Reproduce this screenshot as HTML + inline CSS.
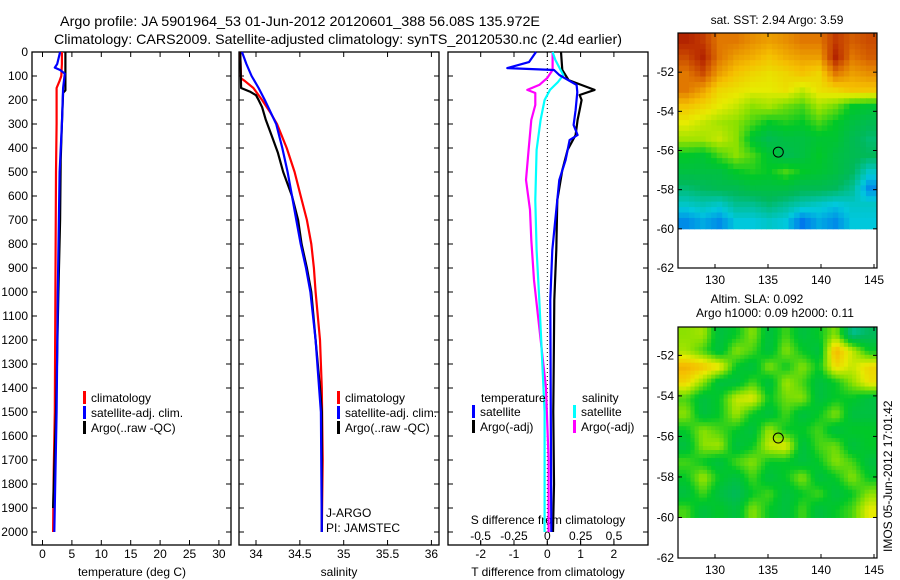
<!DOCTYPE html>
<html><head><meta charset="utf-8"><style>
html,body{margin:0;padding:0;background:#fff;}
svg{display:block;font-family:"Liberation Sans",sans-serif;}
</style></head><body>
<svg id="fig" width="900" height="580" viewBox="0 0 900 580" xmlns="http://www.w3.org/2000/svg">
<text x="60" y="26" font-size="14" textLength="480" lengthAdjust="spacingAndGlyphs">Argo profile: JA 5901964_53 01-Jun-2012 20120601_388 56.08S 135.972E</text>
<text x="54" y="44" font-size="14" textLength="568" lengthAdjust="spacingAndGlyphs">Climatology: CARS2009. Satellite-adjusted climatology: synTS_20120530.nc (2.4d earlier)</text>
</svg>
<script>
// ---- data ----
const depthTicks=[0,100,200,300,400,500,600,700,800,900,1000,1100,1200,1300,1400,1500,1600,1700,1800,1900,2000];
const tempTicks=[0,5,10,15,20,25,30];
const salTicks=[34,34.5,35,35.5,36];
const tdiffTicks=[-2,-1,0,1,2];
const sdiffTicks=[-0.5,-0.25,0,0.25,0.5];
const sdiffTickLabels=["-0.5","-0.25","0","0.25","0.5"];
const latTicks=[-52,-54,-56,-58,-60,-62];
const lonTicks=[130,135,140,145];

const tClimDepth=[0,50,100,120,150,300,500,1000,1500,1750,2000];
const tClim=[3.3,3.3,3.2,2.9,2.4,2.4,2.3,2.2,2.1,1.9,1.8];
const tSatDepth=[0,50,65,75,90,150,300,500,1000,1500,2000];
const tSat=[3.0,2.5,2.1,3.0,3.8,3.5,3.3,2.9,2.6,2.4,2.0];
const tArgoDepth=[0,160,170,300,450,700,1000,1500,1900];
const tArgo=[3.9,3.9,3.5,3.3,3.1,3.0,2.7,2.3,1.8];

const sArgoDepth=[0,150,165,180,200,230,280,350,420,500,600,700,800,900,1000,1200,1400,1500,2000];
const sArgo=[33.82,33.83,33.93,34.0,34.03,34.07,34.11,34.18,34.25,34.31,34.41,34.48,34.52,34.58,34.63,34.68,34.73,34.75,34.75];
const sSatDepth=[0,50,100,150,200,300,400,500,600,700,800,900,1000,1200,1400,1500,2000];
const sSat=[33.84,33.89,33.95,34.03,34.10,34.23,34.30,34.36,34.41,34.46,34.51,34.57,34.62,34.68,34.72,34.74,34.75];
const sClimDepth=[0,110,120,150,200,250,300,400,500,600,700,800,900,1000,1200,1400,1700,2000];
const sClim=[33.82,33.83,33.87,33.97,34.07,34.16,34.24,34.35,34.44,34.51,34.58,34.63,34.66,34.68,34.73,34.75,34.76,34.75];

const dTSatDepth=[0,42,67,75,96,137,167,242,304,346,367,450,533,658,825,1033,2000];
const dTSat=[-0.34,-0.55,-1.2,0.2,0.36,0.88,0.9,0.85,0.79,0.91,0.67,0.55,0.36,0.27,0.15,0.09,0.12];
const dTArgoDepth=[0,75,117,158,179,200,242,283,346,408,492,617,825,1033,1500,1800,2000];
const dTArgo=[0.41,0.45,0.64,1.42,0.97,1.03,0.97,0.91,0.85,0.61,0.45,0.3,0.27,0.21,0.18,0.2,0.17];
const dSArgoDepth=[0,75,108,137,158,171,221,283,408,533,658,783,950,1400,1700,2000];
const dSArgo=[0.04,0.04,0.0,-0.06,-0.15,-0.09,-0.09,-0.12,-0.14,-0.16,-0.13,-0.12,-0.1,-0.01,0.01,0.01];
const dSSatDepth=[0,33,96,125,158,200,283,408,617,825,1033,1500,2000];
const dSSat=[0.04,0.06,0.12,0.08,0.02,-0.02,-0.05,-0.08,-0.09,-0.08,-0.06,-0.02,-0.02];

const sstGrid=[
[0.95,0.92,0.85,0.85,0.82,0.80,0.82,0.85,0.85,0.92,0.88,0.90],
[0.90,0.95,0.85,0.80,0.78,0.75,0.78,0.80,0.80,0.95,0.85,0.88],
[0.85,0.90,0.80,0.75,0.72,0.70,0.72,0.75,0.72,0.85,0.80,0.82],
[0.85,0.80,0.72,0.70,0.68,0.68,0.70,0.65,0.70,0.72,0.75,0.75],
[0.75,0.72,0.68,0.65,0.60,0.62,0.58,0.55,0.62,0.58,0.50,0.48],
[0.68,0.65,0.62,0.60,0.55,0.50,0.52,0.50,0.55,0.50,0.45,0.42],
[0.62,0.62,0.65,0.60,0.48,0.42,0.45,0.45,0.48,0.48,0.42,0.38],
[0.50,0.48,0.55,0.60,0.55,0.48,0.42,0.45,0.50,0.45,0.42,0.40],
[0.45,0.45,0.45,0.50,0.52,0.50,0.55,0.50,0.48,0.45,0.40,0.30],
[0.38,0.40,0.42,0.42,0.45,0.45,0.45,0.42,0.42,0.40,0.35,0.22],
[0.30,0.32,0.30,0.35,0.35,0.38,0.35,0.32,0.30,0.28,0.30,0.30],
[0.22,0.25,0.22,0.28,0.28,0.30,0.28,0.20,0.25,0.22,0.28,0.28]];
const slaGrid=[
[0.60,0.62,0.45,0.50,0.60,0.45,0.55,0.45,0.50,0.60,0.35,0.40],
[0.62,0.55,0.45,0.60,0.55,0.45,0.60,0.50,0.45,0.78,0.65,0.50],
[0.78,0.75,0.70,0.50,0.45,0.60,0.50,0.60,0.50,0.72,0.65,0.72],
[0.72,0.60,0.45,0.45,0.55,0.45,0.62,0.55,0.45,0.50,0.60,0.70],
[0.55,0.45,0.50,0.65,0.68,0.50,0.58,0.60,0.45,0.50,0.50,0.45],
[0.60,0.45,0.50,0.62,0.50,0.45,0.55,0.45,0.50,0.60,0.45,0.45],
[0.50,0.60,0.55,0.50,0.45,0.62,0.50,0.50,0.55,0.45,0.50,0.50],
[0.45,0.60,0.62,0.45,0.50,0.65,0.68,0.45,0.55,0.58,0.45,0.50],
[0.55,0.50,0.45,0.55,0.60,0.50,0.50,0.45,0.50,0.60,0.55,0.45],
[0.50,0.62,0.50,0.45,0.55,0.45,0.50,0.60,0.45,0.50,0.60,0.50],
[0.45,0.55,0.45,0.40,0.50,0.55,0.45,0.50,0.55,0.45,0.50,0.60],
[0.55,0.45,0.50,0.45,0.60,0.50,0.45,0.55,0.45,0.50,0.55,0.68]];
const floatLon=[135.97];
const floatLat=[-56.08];

// ---- drawing ----
const NS="http://www.w3.org/2000/svg";
const svg=document.getElementById('fig');
function el(tag,attrs,parent){const e=document.createElementNS(NS,tag);for(const k in attrs)e.setAttribute(k,attrs[k]);(parent||svg).appendChild(e);return e;}
function txt(s,x,y,attrs,name){const t=el('text',Object.assign({x:x,y:y,'font-size':12},attrs||{}));t.textContent=s;


return t;}

const TOP=52,BOT=545;
const yD=d=>TOP+d*0.24;
const panels=[{x0:32,x1:231},{x0:239,x1:439},{x0:448,x1:648}];
const xT=v=>42.5+v*5.88;
const xS=v=>256+(v-34)*87.7;
const xDT=v=>547.3+v*33.3;
const xDS=v=>547.3+v*133.3;

function frame(p,name){const r=el('rect',{x:p.x0,y:TOP,width:p.x1-p.x0,height:BOT-TOP,fill:'none',stroke:'#000','stroke-width':1.3});


depthTicks.forEach(d=>{const y=yD(d);el('line',{x1:p.x0,x2:p.x0+5,y1:y,y2:y,stroke:'#000'});el('line',{x1:p.x1-5,x2:p.x1,y1:y,y2:y,stroke:'#000'});});}
panels.forEach((p,i)=>frame(p,['temperature-panel','salinity-panel','difference-panel'][i]));
depthTicks.forEach(d=>txt(String(d),28,yD(d)+4,{'text-anchor':'end','font-size':12},'depth-tick-label'));

function xticks(vals,fx,p,labels,ylab,name){vals.forEach((v,i)=>{const x=fx(v);el('line',{x1:x,x2:x,y1:BOT-5,y2:BOT,stroke:'#000'});el('line',{x1:x,x2:x,y1:TOP,y2:TOP+5,stroke:'#000'});
txt(labels?labels[i]:String(v),x,ylab,{'text-anchor':'middle'},name);});}
xticks(tempTicks,xT,panels[0],null,558,'temperature-tick-label');
xticks(salTicks,xS,panels[1],null,558,'salinity-tick-label');
xticks(tdiffTicks,xDT,panels[2],null,558,'tdiff-tick-label');
sdiffTicks.forEach((v,i)=>{const x=xDS(v);el('line',{x1:x,x2:x,y1:BOT-4,y2:BOT,stroke:'#000'});txt(sdiffTickLabels[i],x,540,{'text-anchor':'middle'},'sdiff-tick-label');});
txt('temperature (deg C)',132,576,{'text-anchor':'middle'},'temperature-axis-title');
txt('salinity',339,576,{'text-anchor':'middle'},'salinity-axis-title');
txt('T difference from climatology',548,576,{'text-anchor':'middle'},'tdiff-axis-title');
txt('S difference from climatology',548,524,{'text-anchor':'middle'},'sdiff-axis-title');

el('line',{x1:xDT(0),x2:xDT(0),y1:TOP,y2:yD(2000),stroke:'#000','stroke-dasharray':'1,3'});

function profile(depths,vals,fx,color,name){const pts=depths.map((d,i)=>fx(vals[i]).toFixed(1)+','+yD(d).toFixed(1)).join(' ');
const pl=el('polyline',{points:pts,fill:'none',stroke:color,'stroke-width':2.2,'stroke-linejoin':'round'});

}
profile(tClimDepth,tClim,xT,'#f00','temp-climatology-line');
profile(tArgoDepth,tArgo,xT,'#000','temp-argo-line');
profile(tSatDepth,tSat,xT,'#00f','temp-satellite-line');
profile(sClimDepth,sClim,xS,'#f00','sal-climatology-line');
profile(sArgoDepth,sArgo,xS,'#000','sal-argo-line');
profile(sSatDepth,sSat,xS,'#00f','sal-satellite-line');
profile(dSArgoDepth,dSArgo,xDS,'#f0f','sdiff-argo-line');
profile(dTArgoDepth,dTArgo,xDT,'#000','tdiff-argo-line');
profile(dSSatDepth,dSSat,xDS,'#0ff','sdiff-satellite-line');
profile(dTSatDepth,dTSat,xDT,'#00f','tdiff-satellite-line');

function legend(x,y,color,label,name){el('rect',{x:x,y:y-11,width:3,height:13,fill:color});txt(label,x+8,y,{},name);}
[['#f00','climatology'],['#00f','satellite-adj. clim.'],['#000','Argo(..raw -QC)']].forEach((e,i)=>{legend(83,402+i*15,e[0],e[1],'temp-legend-entry');legend(337,402+i*15,e[0],e[1],'sal-legend-entry');});
txt('temperature',481,402,{},'tdiff-legend-title');
txt('salinity',582,402,{},'sdiff-legend-title');
legend(472,416,'#00f','satellite','tdiff-legend-satellite');
legend(472,431,'#000','Argo(-adj)','tdiff-legend-argo');
legend(573,416,'#0ff','satellite','sdiff-legend-satellite');
legend(573,431,'#f0f','Argo(-adj)','sdiff-legend-argo');
txt('J-ARGO',326,517,{},'institution-label');
txt('PI: JAMSTEC',326,532,{},'pi-label');

// ---- maps ----
const stops=[[0,[0,0,190]],[0.18,[0,100,240]],[0.28,[0,200,220]],[0.4,[0,185,90]],[0.5,[0,200,40]],[0.6,[140,225,0]],[0.68,[230,235,0]],[0.76,[245,190,0]],[0.85,[225,120,0]],[0.93,[190,50,0]],[1,[150,0,0]]];
function cmap(v){for(let i=1;i<stops.length;i++){if(v<=stops[i][0]){const a=stops[i-1],b=stops[i],t=(v-a[0])/(b[0]-a[0]);return 'rgb('+a[1].map((c,k)=>Math.round(c+(b[1][k]-c)*t)).join(',')+')';}}return 'rgb(150,0,0)';}
function sample(grid,fr,fc){const rows=grid.length,cols=grid[0].length;
 const r=Math.min(Math.max(fr,0),rows-1),c=Math.min(Math.max(fc,0),cols-1);
 const r0=Math.floor(r),c0=Math.floor(c),r1=Math.min(r0+1,rows-1),c1=Math.min(c0+1,cols-1),tr=r-r0,tc=c-c0;
 return grid[r0][c0]*(1-tr)*(1-tc)+grid[r0][c1]*(1-tr)*tc+grid[r1][c0]*tr*(1-tc)+grid[r1][c1]*tr*tc;}
function map(grid,top,bottom,latTop,name,sub){
 const x0=678,x1=877;
 const xL=lon=>715+(lon-130)*10.6;
 const yL=lat=>top+(latTop-lat)*((bottom-top)/(latTop+62));
 const rows=grid.length,cols=grid[0].length;
 const dataTop=yL(latTop),dataBot=yL(-60);
 const R=rows*sub,C=cols*sub;
 const cw=(x1-x0)/C,ch=(dataBot-dataTop)/R;
 for(let r=0;r<R;r++)for(let c=0;c<C;c++){
  const v=sample(grid,(r+0.5)/sub-0.5,(c+0.5)/sub-0.5);
  const cell=el('rect',{x:(x0+c*cw).toFixed(2),y:(dataTop+r*ch).toFixed(2),width:(cw+0.5).toFixed(2),height:(ch+0.5).toFixed(2),fill:cmap(v)});
  
  }
 const fr=el('rect',{x:x0,y:top,width:x1-x0,height:bottom-top,fill:'none',stroke:'#000','stroke-width':1.2});
 
 
 latTicks.forEach(l=>{const y=yL(l);el('line',{x1:x1-4,x2:x1,y1:y,y2:y,stroke:'#000'});el('line',{x1:x0,x2:x0+4,y1:y,y2:y,stroke:'#000'});txt(String(l),674,y+4,{'text-anchor':'end'},'map-lat-label');});
 lonTicks.forEach(l=>{const x=xL(l);el('line',{x1:x,x2:x,y1:bottom-4,y2:bottom,stroke:'#000'});el('line',{x1:x,x2:x,y1:top,y2:top+4,stroke:'#000'});txt(String(l),x,bottom+16,{'text-anchor':'middle'},'map-lon-label');});
 const m=el('circle',{cx:xL(floatLon[0]),cy:yL(floatLat[0]),r:5,fill:'none',stroke:'#000','stroke-width':1});
 
 
}
map(sstGrid,33,268,-50,'sst-map',3);
map(slaGrid,327,558,-50.6,'sla-map',4);
txt('sat. SST: 2.94  Argo: 3.59',777,24,{'text-anchor':'middle'},'sst-map-title');
txt('Altim. SLA: 0.092',757,303,{'text-anchor':'middle'},'sla-map-title');
txt('Argo h1000: 0.09 h2000: 0.11',775,317,{'text-anchor':'middle'},'sla-map-subtitle');
txt('IMOS 05-Jun-2012 17:01:42',0,0,{transform:'translate(892,552) rotate(-90)'},'timestamp-label');
</script>
</body></html>
